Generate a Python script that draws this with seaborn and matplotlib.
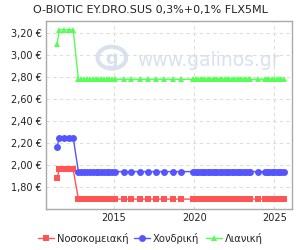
import matplotlib
matplotlib.use("Agg")
import matplotlib.pyplot as plt
import matplotlib.ticker as mticker
from matplotlib.patches import Circle
import seaborn as sns
import pandas as pd

title = "O-BIOTIC EY.DRO.SUS 0,3%+0,1% FLX5ML"
series_names = ["Νοσοκομειακή", "Χονδρική", "Λιανική"]

# dates as decimal years
dates = [2011.45, 2011.58, 2011.85, 2012.2, 2012.45,
         2012.78, 2012.95, 2013.1, 2013.3, 2013.5, 2013.7, 2013.85, 2014.0,
         2014.2, 2014.4, 2014.55, 2014.7, 2014.85, 2015.05,
         2015.6, 2016.05, 2016.6, 2017.1, 2017.6, 2018.1, 2018.7, 2019.2,
         2019.95, 2020.1, 2020.25, 2020.4, 2020.55, 2020.7, 2020.85, 2021.0,
         2021.15, 2021.3, 2021.45, 2021.6, 2021.75, 2021.9, 2022.05, 2022.2,
         2022.35, 2022.5, 2022.65, 2022.8, 2022.95, 2023.1, 2023.25, 2023.4,
         2023.5, 2024.0, 2024.4, 2024.55, 2024.7, 2024.85, 2025.0, 2025.15,
         2025.3, 2025.45, 2025.6]

n_late = len(dates) - 5
hospital = [1.88, 1.96, 1.96, 1.96, 1.96] + [1.69] * n_late
wholesale = [2.16, 2.25, 2.25, 2.25, 2.25] + [1.94] * n_late
retail = [3.10, 3.23, 3.23, 3.23, 3.23] + [2.78] * n_late

y_ticks = [1.80, 2.00, 2.20, 2.40, 2.60, 2.80, 3.00, 3.20]
x_ticks = [2015, 2020, 2025]

colors = ["#ff5555", "#5555ff", "#55ff55"]
markers = ["s", "o", "^"]

sns.set_theme(style="white")
plt.rcParams['font.family'] = ['DejaVu Sans']

fig = plt.figure(figsize=(3, 2.5), dpi=100)
ax = fig.add_axes([0.153, 0.164, 0.820, 0.752])

# watermark
wm = "#d8e2ef"
ax.text(0.66, 0.79, "www.galinos.gr", transform=ax.transAxes, ha="center", va="center",
        fontsize=13.5, color=wm, zorder=0)
circ = Circle((0.268, 0.805), 0.058, transform=ax.transAxes, fill=False,
              edgecolor=wm, linewidth=3, zorder=0)
ax.add_patch(circ)
ax.text(0.268, 0.80, "g", transform=ax.transAxes, ha="center", va="center",
        fontsize=13, fontweight="bold", color=wm, zorder=0)

for vals, name, c, m in zip([hospital, wholesale, retail], series_names, colors, markers):
    df = pd.DataFrame({"date": dates, "price": vals})
    sns.lineplot(data=df, x="date", y="price", ax=ax, color=c, marker=m,
                 markersize=5, markeredgewidth=0, linewidth=1, label=name, zorder=3)

ax.set_xlim(2010.75, 2026.1)
ax.set_ylim(1.60, 3.31)
ax.set_yticks(y_ticks)
ax.set_xticks(x_ticks)
ax.yaxis.set_major_formatter(mticker.FuncFormatter(lambda v, p: f"{v:.2f}".replace(".", ",") + " €"))
ax.xaxis.set_major_formatter(mticker.FuncFormatter(lambda v, p: f"{int(v)}"))
ax.tick_params(axis="both", labelsize=7, length=0, pad=3, colors="#222222")
ax.grid(True, linestyle=(0, (3, 3)), color="#dddddd", linewidth=0.8)
for s in ax.spines.values():
    s.set_color("#aaaaaa")
    s.set_linewidth(1)
ax.set_xlabel("")
ax.set_ylabel("")

fig.text(0.5, 0.962, title, ha="center", va="center", fontsize=8, color="#222222")

ax.get_legend().remove()
handles, labels = ax.get_legend_handles_labels()
fig.legend(handles, labels, loc="center", bbox_to_anchor=(0.5, 0.048), ncol=3,
           frameon=False, fontsize=7.2, handlelength=1.6, handletextpad=0.3,
           columnspacing=0.6, borderaxespad=0)

fig.savefig("out.png", dpi=100)
